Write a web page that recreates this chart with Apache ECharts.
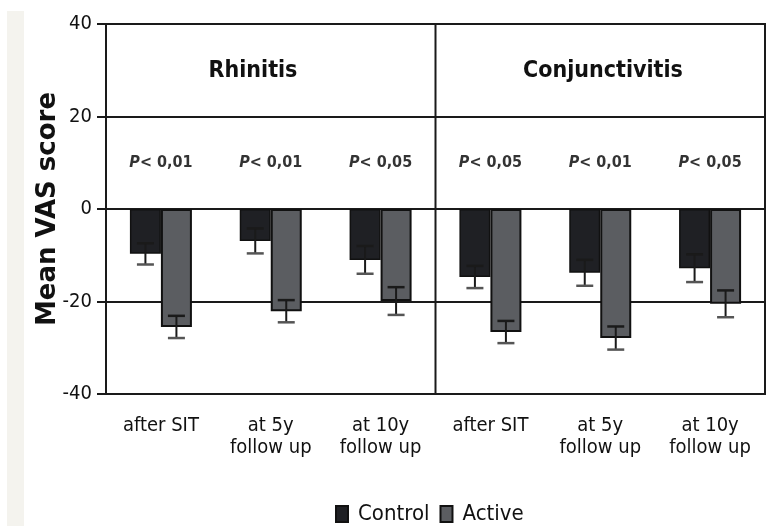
<!DOCTYPE html>
<html><head><meta charset="utf-8">
<script src="https://cdn.jsdelivr.net/npm/echarts@6/dist/echarts.min.js"></script>
<style>html,body{margin:0;padding:0;background:#fff}#c{width:769px;height:526px}</style>
</head><body><div id="c"></div>
<script>
const categories = ['after SIT', 'at 5y\nfollow up', 'at 10y\nfollow up', 'after SIT', 'at 5y\nfollow up', 'at 10y\nfollow up'];
const control = [-9.7, -6.9, -11.0, -14.7, -13.8, -12.8];
const controlErr = [2.3, 2.7, 3.0, 2.4, 2.8, 3.0];
const active = [-25.5, -22.1, -19.9, -26.6, -27.9, -20.5];
const activeErr = [2.4, 2.4, 3.0, 2.4, 2.5, 2.9];
const pValues = ['0,01', '0,01', '0,05', '0,05', '0,01', '0,05'];
const pLevel = 10;
const panels = ['Rhinitis', 'Conjunctivitis'];
const panelBreak = [2, 3];
const yTicks = { min: -40, max: 40, interval: 20 };

const NARROW = "'Liberation Sans Narrow','DejaVu Sans Condensed',sans-serif";
const BARW = 31;

function errSeries(vals, errs, offset, name) {
  return {
    type: 'custom', name: name + ' err', z: 5, silent: true,
    data: vals.map((v, i) => [i, v - errs[i], v + errs[i]]),
    renderItem: function (params, api) {
      const i = api.value(0);
      const lo = api.coord([i, api.value(1)]);
      const hi = api.coord([i, api.value(2)]);
      const x = lo[0] + offset;
      const cw = 8.5;
      return {
        type: 'group', children: [
          { type: 'line', shape: { x1: x, y1: hi[1], x2: x, y2: lo[1] }, style: { stroke: '#1a1a1a', lineWidth: 2 } },
          { type: 'line', shape: { x1: x - cw, y1: hi[1], x2: x + cw, y2: hi[1] }, style: { stroke: '#1a1a1a', lineWidth: 2.5 } },
          { type: 'line', shape: { x1: x - cw, y1: lo[1], x2: x + cw, y2: lo[1] }, style: { stroke: '#555', lineWidth: 2.5 } }
        ]
      };
    }
  };
}

const chart = echarts.init(document.getElementById('c'), null, { renderer: 'canvas' });
chart.setOption({
  backgroundColor: '#fff',
  animation: false,
  graphic: [
    { type: 'rect', shape: { x: 7, y: 11, width: 17, height: 515 }, style: { fill: '#f4f3ee' }, z: -10 },
    { type: 'text', x: 253, y: 71, style: { text: panels[0], fontFamily: NARROW, fontWeight: 'bold', fontSize: 23, fill: '#111', textAlign: 'center', textVerticalAlign: 'middle' } },
    { type: 'text', x: 603, y: 71, style: { text: panels[1], fontFamily: NARROW, fontWeight: 'bold', fontSize: 23, fill: '#111', textAlign: 'center', textVerticalAlign: 'middle' } }
  ],
  grid: { left: 106, right: 4, top: 24, bottom: 132, show: true, borderColor: '#1a1a1a', borderWidth: 2 },
  legend: {
    data: ['Control', 'Active'], top: 498, left: 330,
    icon: 'rect', itemWidth: 12, itemHeight: 16, itemGap: 10,
    textStyle: { fontFamily: NARROW, fontSize: 22, color: '#111', padding: [0, 0, 0, 5] },
    selectedMode: false
  },
  xAxis: {
    type: 'category', data: categories,
    axisLine: { show: false }, axisTick: { show: false },
    axisLabel: { interval: 0, fontFamily: NARROW, fontSize: 20, lineHeight: 22, margin: 21, color: '#111' },
    splitLine: { show: false }
  },
  yAxis: {
    type: 'value', min: yTicks.min, max: yTicks.max, interval: yTicks.interval,
    name: 'Mean VAS score', nameLocation: 'middle', nameGap: 45, nameRotate: 90, nameMoveOverlap: false,
    nameTextStyle: { fontFamily: "'DejaVu Sans',sans-serif", fontWeight: 'bold', fontSize: 26, color: '#111' },
    axisLine: { show: true, lineStyle: { color: '#1a1a1a', width: 2 } },
    axisTick: { show: true, length: 9, lineStyle: { color: '#1a1a1a', width: 2 } },
    axisLabel: { fontFamily: NARROW, fontSize: 20, margin: 14, color: '#111' },
    splitLine: { show: true, lineStyle: { color: '#1a1a1a', width: 2 } }
  },
  series: [
    { name: 'Control', type: 'bar', data: control, barWidth: BARW, barGap: '0%',
      itemStyle: { color: '#1f2024', borderColor: '#111', borderWidth: 1.5 } },
    { name: 'Active', type: 'bar', data: active, barWidth: BARW, barGap: '0%',
      itemStyle: { color: '#5b5d61', borderColor: '#111', borderWidth: 2 } },
    errSeries(control, controlErr, -BARW / 2, 'Control'),
    errSeries(active, activeErr, BARW / 2, 'Active'),
    {
      type: 'custom', silent: true, z: 4,
      data: [panelBreak],
      renderItem: function (params, api) {
        const a = api.coord([api.value(0), 0]);
        const b = api.coord([api.value(1), 0]);
        const x = (a[0] + b[0]) / 2;
        const cs = params.coordSys;
        return { type: 'line', shape: { x1: x, y1: cs.y, x2: x, y2: cs.y + cs.height }, style: { stroke: '#1a1a1a', lineWidth: 2 } };
      }
    },
    {
      type: 'scatter', silent: true, symbolSize: 0, z: 6,
      data: pValues.map((p, i) => [i, pLevel]),
      label: {
        show: true, position: 'inside',
        formatter: function (d) { return '{p|P}{t|< ' + pValues[d.dataIndex] + '}'; },
        rich: {
          p: { fontFamily: NARROW, fontStyle: 'italic', fontWeight: 'bold', fontSize: 16, color: '#000' },
          t: { fontFamily: NARROW, fontWeight: 'bold', fontSize: 16, color: '#000' }
        }
      }
    }
  ]
});
</script></body></html>
